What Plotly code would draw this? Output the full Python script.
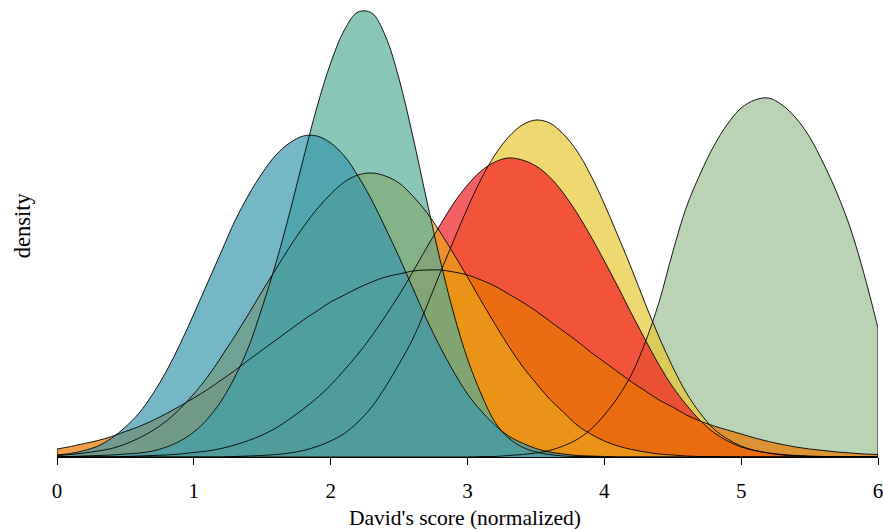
import plotly.graph_objects as go

x = [0.0, 0.1, 0.2, 0.3, 0.4, 0.5, 0.6, 0.7, 0.8, 0.9,
     1.0, 1.1, 1.2, 1.3, 1.4, 1.5, 1.6, 1.7, 1.8, 1.9,
     2.0, 2.1, 2.2, 2.3, 2.4, 2.5, 2.6, 2.7, 2.8, 2.9,
     3.0, 3.1, 3.2, 3.3, 3.4, 3.5, 3.6, 3.7, 3.8, 3.9,
     4.0, 4.1, 4.2, 4.3, 4.4, 4.5, 4.6, 4.7, 4.8, 4.9,
     5.0, 5.1, 5.2, 5.3, 5.4, 5.5, 5.6, 5.7, 5.8, 5.9, 6.0]

light_green = [0]*30 + [0.0, 0.001, 0.001, 0.003, 0.005, 0.008, 0.013, 0.022, 0.035, 0.055,
                        0.084, 0.12, 0.166, 0.23, 0.31, 0.41, 0.5, 0.566, 0.622, 0.666,
                        0.698, 0.714, 0.718, 0.704, 0.678, 0.64, 0.588, 0.528, 0.456, 0.364, 0.258]

yellow = [0]*13 + [0.001, 0.002, 0.003, 0.005, 0.008, 0.013, 0.021,
                   0.032, 0.047, 0.07, 0.1, 0.14, 0.186, 0.236, 0.3, 0.368, 0.434,
                   0.498, 0.556, 0.604, 0.64, 0.664, 0.674, 0.668, 0.646, 0.612, 0.564,
                   0.506, 0.442, 0.376, 0.306, 0.24, 0.18, 0.128, 0.088, 0.056, 0.036,
                   0.022, 0.013, 0.008, 0.004, 0.002, 0.001, 0.001, 0, 0, 0, 0]

red = [0, 0, 0, 0, 0, 0.001, 0.002, 0.003, 0.004, 0.006,
       0.009, 0.012, 0.017, 0.024, 0.033, 0.044, 0.058, 0.076, 0.096, 0.118,
       0.144, 0.174, 0.206, 0.242, 0.282, 0.324, 0.37, 0.418, 0.464, 0.508,
       0.544, 0.572, 0.59, 0.598, 0.594, 0.582, 0.56, 0.528, 0.488, 0.442,
       0.392, 0.34, 0.286, 0.234, 0.184, 0.14, 0.104, 0.073, 0.049, 0.032,
       0.02, 0.013, 0.008, 0.005, 0.003, 0.002, 0.001, 0, 0, 0, 0]

orange = [0.016, 0.021, 0.027, 0.033, 0.041, 0.051, 0.061, 0.073, 0.087, 0.102,
          0.118, 0.135, 0.154, 0.173, 0.194, 0.214, 0.234, 0.254, 0.274, 0.292,
          0.31, 0.324, 0.338, 0.35, 0.36, 0.366, 0.372, 0.374, 0.374, 0.37,
          0.364, 0.354, 0.342, 0.326, 0.31, 0.292, 0.272, 0.252, 0.232, 0.21,
          0.19, 0.17, 0.15, 0.132, 0.114, 0.1, 0.084, 0.072, 0.062, 0.054,
          0.046, 0.038, 0.031, 0.025, 0.02, 0.016, 0.013, 0.01, 0.008, 0.006, 0.005]

gold = [0.003, 0.005, 0.008, 0.012, 0.017, 0.026, 0.038, 0.053, 0.072, 0.097,
        0.126, 0.16, 0.2, 0.242, 0.286, 0.332, 0.376, 0.42, 0.46, 0.496,
        0.526, 0.55, 0.564, 0.568, 0.562, 0.548, 0.522, 0.49, 0.45, 0.406,
        0.36, 0.312, 0.266, 0.222, 0.182, 0.148, 0.116, 0.09, 0.064, 0.046,
        0.032, 0.022, 0.015, 0.01, 0.006, 0.004, 0.002, 0.001, 0.001, 0, 0] + [0]*10

teal = [0.001, 0.001, 0.002, 0.003, 0.004, 0.006, 0.008, 0.012, 0.02, 0.032,
        0.05, 0.076, 0.112, 0.16, 0.22, 0.3, 0.388, 0.488, 0.596, 0.7,
        0.788, 0.854, 0.89, 0.888, 0.842, 0.756, 0.642, 0.516, 0.394, 0.286,
        0.196, 0.126, 0.07, 0.038, 0.02, 0.01, 0.005, 0.002, 0.001, 0.001] + [0]*21

blue = [0.004, 0.007, 0.013, 0.022, 0.038, 0.06, 0.088, 0.126, 0.172, 0.226,
        0.286, 0.348, 0.41, 0.472, 0.524, 0.568, 0.604, 0.628, 0.642, 0.642,
        0.628, 0.602, 0.562, 0.514, 0.458, 0.4, 0.338, 0.276, 0.22, 0.17,
        0.126, 0.092, 0.064, 0.042, 0.028, 0.017, 0.01, 0.006, 0.003, 0.002,
        0.001] + [0]*20

tick_vals = [0, 1, 2, 3, 4, 5, 6]
tick_text = ["0", "1", "2", "3", "4", "5", "6"]
x_title = "David's score (normalized)"
y_title = "density"

# drawing order: bottom to top
series = [
    ("light_green", light_green, "rgba(156,192,149,0.7)"),
    ("yellow", yellow, "rgba(234,199,51,0.7)"),
    ("red", red, "rgba(241,28,35,0.7)"),
    ("orange", orange, "rgba(234,119,0,0.7)"),
    ("gold", gold, "rgba(235,164,26,0.7)"),
    ("teal", teal, "rgba(85,174,154,0.7)"),
    ("blue", blue, "rgba(59,152,175,0.7)"),
]

fig = go.Figure()
for name, ys, col in series:
    fig.add_trace(go.Scatter(x=x, y=ys, mode="lines", fill="tozeroy",
                             fillcolor=col, line=dict(width=0, shape="spline", color=col),
                             hoverinfo="skip", showlegend=False, name=name))
for name, ys, col in series:
    fig.add_trace(go.Scatter(x=x, y=ys, mode="lines",
                             line=dict(width=0.9, shape="spline", color="black"),
                             hoverinfo="skip", showlegend=False))
    # closing edges where the curve is cut at the axis limits
    if ys[0] > 0.004:
        fig.add_trace(go.Scatter(x=[x[0], x[0]], y=[ys[0], 0], mode="lines",
                                 line=dict(width=0.9, color="black"), showlegend=False))
    if ys[-1] > 0.004:
        fig.add_trace(go.Scatter(x=[x[-1], x[-1]], y=[ys[-1], 0], mode="lines",
                                 line=dict(width=0.9, color="black"), showlegend=False))

font = "Liberation Serif"
fig.update_layout(
    width=883, height=529,
    margin=dict(l=57, r=5, t=5, b=72, autoexpand=False),
    paper_bgcolor="white", plot_bgcolor="white",
    font=dict(family=font, size=21, color="black"),
    xaxis=dict(range=[0, 6], showline=True, linecolor="black", linewidth=1,
               ticks="outside", ticklen=7, tickwidth=1, tickcolor="black",
               tickvals=tick_vals, ticktext=tick_text, ticklabelstandoff=8,
               ticklabeloverflow="allow",
               tickfont=dict(family=font, size=21, color="black"),
               showgrid=False, zeroline=False, automargin=False),
    yaxis=dict(range=[0, 0.904], showticklabels=False, showgrid=False,
               zeroline=False, showline=False, ticks="", automargin=False),
    annotations=[
        dict(text=x_title, xref="paper", yref="paper", x=0.4968, y=-0.135,
             xanchor="center", yanchor="middle", showarrow=False,
             font=dict(family=font, size=21.5, color="black")),
        dict(text=y_title, xref="paper", yref="paper", x=-0.0426, y=0.513,
             xanchor="center", yanchor="middle", textangle=-90, showarrow=False,
             font=dict(family=font, size=22.5, color="black")),
    ],
)

fig.write_html("out.html", config={"displayModeBar": False},
               post_script="document.body.style.margin='0';document.body.style.overflow='hidden';")
